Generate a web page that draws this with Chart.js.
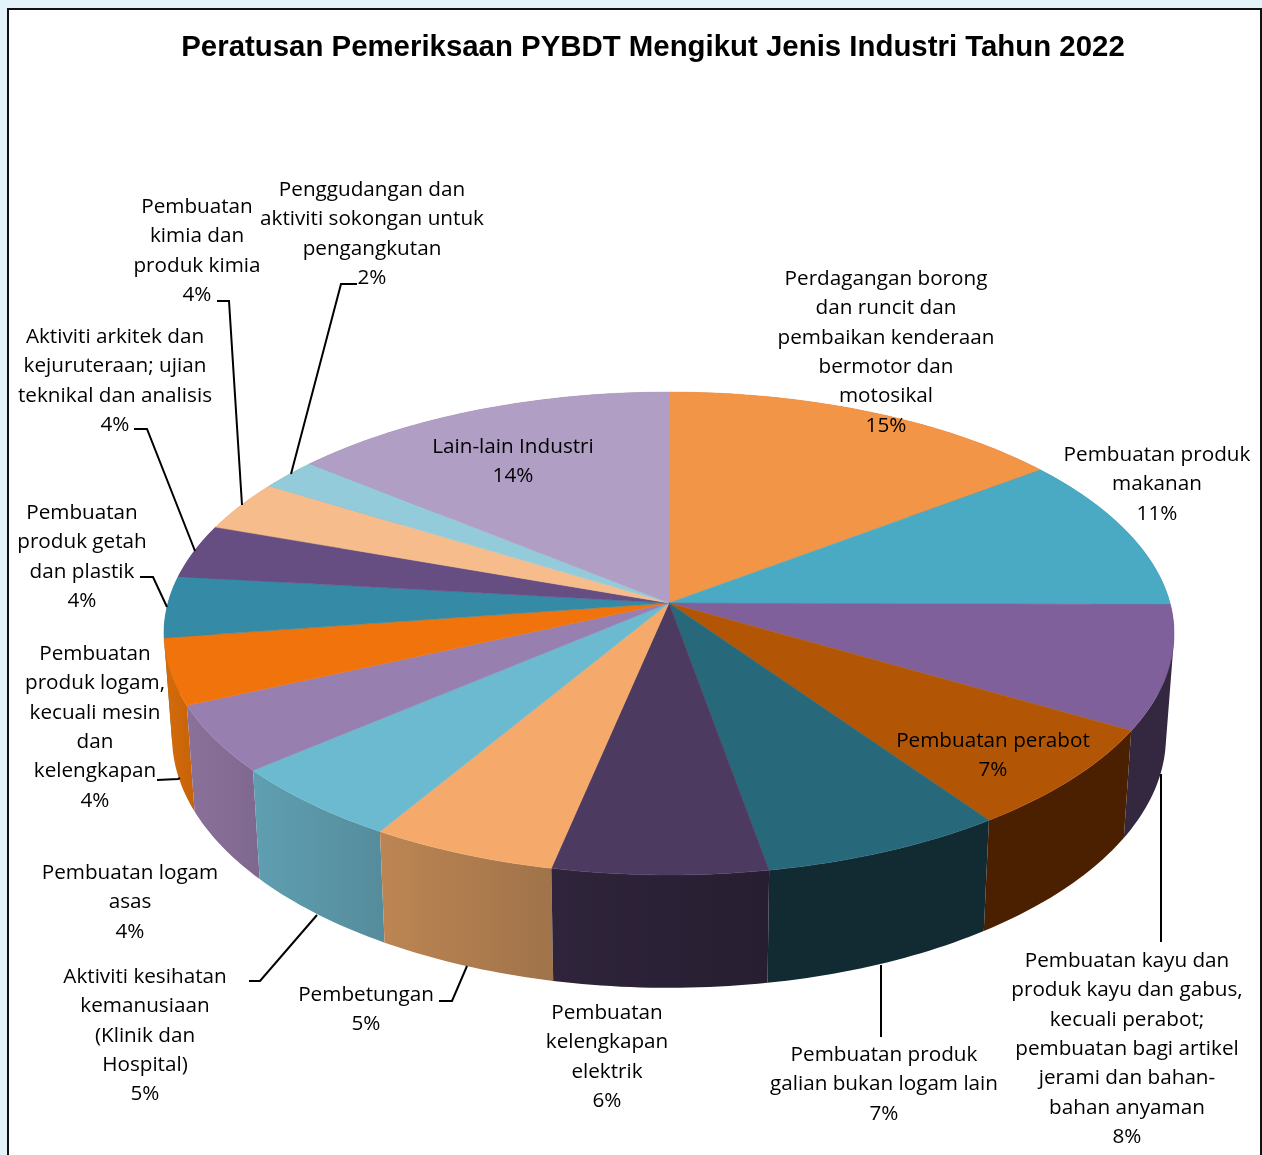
<!DOCTYPE html>
<html><head><meta charset="utf-8">
<style>html,body{margin:0;padding:0;background:#e4f2f9;overflow:hidden}#w{position:absolute;left:0;top:0;width:1262px;height:1155px}</style>
<script src="https://cdn.jsdelivr.net/npm/chart.js@4"></script>
</head><body><div id="w"><canvas id="c" width="1262" height="1155"></canvas></div>
<script>
const chartTitle = 'Peratusan Pemeriksaan PYBDT Mengikut Jenis Industri Tahun 2022';
const categories = [
 'Perdagangan borong dan runcit dan pembaikan kenderaan bermotor dan motosikal',
 'Pembuatan produk makanan',
 'Pembuatan kayu dan produk kayu dan gabus, kecuali perabot; pembuatan bagi artikel jerami dan bahan-bahan anyaman',
 'Pembuatan perabot',
 'Pembuatan produk galian bukan logam lain',
 'Pembuatan kelengkapan elektrik',
 'Pembetungan',
 'Aktiviti kesihatan kemanusiaan (Klinik dan Hospital)',
 'Pembuatan logam asas',
 'Pembuatan produk logam, kecuali mesin dan kelengkapan',
 'Pembuatan produk getah dan plastik',
 'Aktiviti arkitek dan kejuruteraan; ujian teknikal dan analisis',
 'Pembuatan kimia dan produk kimia',
 'Penggudangan dan aktiviti sokongan untuk pengangkutan',
 'Lain-lain Industri'];
const values = [14.7,10.4,8.3,6.9,6.9,6.1,5.3,5.2,4.5,4.4,4.1,3.6,3.4,2.1,14.1];
const percentLabels = ['15%','11%','8%','7%','7%','6%','5%','5%','4%','4%','4%','4%','4%','2%','14%'];
const labelLines = [
 ['Perdagangan borong','dan runcit dan','pembaikan kenderaan','bermotor dan','motosikal'],
 ['Pembuatan produk','makanan'],
 ['Pembuatan kayu dan','produk kayu dan gabus,','kecuali perabot;','pembuatan bagi artikel','jerami dan bahan-','bahan anyaman'],
 ['Pembuatan perabot'],
 ['Pembuatan produk','galian bukan logam lain'],
 ['Pembuatan','kelengkapan','elektrik'],
 ['Pembetungan'],
 ['Aktiviti kesihatan','kemanusiaan','(Klinik dan','Hospital)'],
 ['Pembuatan logam','asas'],
 ['Pembuatan','produk logam,','kecuali mesin','dan','kelengkapan'],
 ['Pembuatan','produk getah','dan plastik'],
 ['Aktiviti arkitek dan','kejuruteraan; ujian','teknikal dan analisis'],
 ['Pembuatan','kimia dan','produk kimia'],
 ['Penggudangan dan','aktiviti sokongan untuk','pengangkutan'],
 ['Lain-lain Industri']];
const topColors = ['#f39546','#4aa9c3','#7f609b','#b25605','#27687a','#4d3a60','#f5aa6b','#6cbad0','#977fb0','#f0730c','#358aa6','#664d82','#f7bc8c','#94cbda','#b19ec4'];
const sideLeft  = ['#b46e34','#367d90','#33283f','#4a2000','#122a32','#2f243b','#bd8553','#5f9fb1','#8a7199','#d56c0a','#2a6e85','#4d3a60','#b88a66','#6e98a2','#83759a'];
const sideRight = ['#b46e34','#367d90','#33283f','#4a2000','#122a32','#271e31','#a0734a','#558c9c','#7f6890','#c66208','#2a6e85','#4d3a60','#b88a66','#6e98a2','#83759a'];
// label layout: centre x, first-line centre y
const labelX = [886,1157,1127,993,884,607,366,145,130,95,82,115,197,372,513];
const labelY = [279,455,961,741,1055,1013,995,977,873,654,513,337,207,190,447];
const labelGap = 29.4;
const leaders = [
 null,null,
 [[1161,942],[1161,774]],
 null,
 [[881,1037],[881,965]],
 null,
 [[439,1001],[452,1001],[467,966]],
 [[249,981],[260,981],[317,915]],
 null,
 [[157,780],[178,779],[180,778]],
 [[140,577],[153,577],[167,607]],
 [[134,429],[147,429],[195,551]],
 [[217,301],[229,301],[242,505]],
 [[357,284],[341,284],[291,474]],
 null];
// perspective of the pie disc
const P = {cx:669, cy:603, a:501, b:237.6, k:0.1263, sx:0.984, sy:1.04, dy:102};
function topPt(t){const u=Math.cos(t),v=Math.sin(t),w=1-P.k*v;return [P.cx+P.a*u/w,P.cy+P.b*v/w];}
function botPt(t){const p=topPt(t);return [P.cx+(p[0]-P.cx)*P.sx,P.cy+P.dy+(p[1]-P.cy)*P.sy];}
function angles(s,e){const n=Math.max(2,Math.ceil((e-s)/(Math.PI/180)));const r=[];for(let i=0;i<=n;i++)r.push(s+(e-s)*i/n);return r;}
function addQuad(x,q){let s=0;for(let i=0;i<4;i++){const a=q[i],b=q[(i+1)%4];s+=a[0]*b[1]-b[0]*a[1];}
 const o=s<0?q.slice().reverse():q;o.forEach((p,i)=>i?x.lineTo(p[0],p[1]):x.moveTo(p[0],p[1]));x.closePath();}
const pie3d = {
 id:'pie3d',
 beforeDraw(c){const x=c.ctx;x.save();x.fillStyle='#e4f2f9';x.fillRect(0,0,1262,1155);x.fillStyle='#fff';x.fillRect(7,8,1254,1147);
  x.strokeStyle='#111';x.lineWidth=2;x.beginPath();x.moveTo(8,1155);x.lineTo(8,9);x.lineTo(1261,9);x.lineTo(1261,1155);x.stroke();x.restore();},
 beforeDatasetsDraw(c){
  const x=c.ctx,arcs=c.getDatasetMeta(0).data;
  x.save();
  const order=arcs.map((a,i)=>i).sort((p,q)=>Math.sin((arcs[p].startAngle+arcs[p].endAngle)/2)-Math.sin((arcs[q].startAngle+arcs[q].endAngle)/2));
  order.forEach(i=>{const A=angles(arcs[i].startAngle,arcs[i].endAngle);
   const T=A.map(topPt),B=A.map(botPt);
   const xs=T.concat(B).map(p=>p[0]);const g=x.createLinearGradient(Math.min(...xs),0,Math.max(...xs),0);
   g.addColorStop(0,sideLeft[i]);g.addColorStop(1,sideRight[i]);
   x.fillStyle=g;x.beginPath();
   for(let j=0;j<T.length-1;j++)addQuad(x,[T[j],T[j+1],B[j+1],B[j]]);
   x.fill('nonzero');
  });
  arcs.forEach((a,i)=>{x.fillStyle=topColors[i];x.strokeStyle=topColors[i];x.lineWidth=0.5;x.beginPath();x.moveTo(P.cx,P.cy);
   angles(a.startAngle,a.endAngle).map(topPt).forEach(p=>x.lineTo(p[0],p[1]));x.closePath();x.fill();x.stroke();});
  x.restore();
  return false;
 },
 afterDraw(c){
  const x=c.ctx;x.save();x.strokeStyle='#000';x.lineWidth=2;x.lineJoin='miter';
  leaders.forEach(l=>{if(!l)return;x.beginPath();l.forEach((p,j)=>j?x.lineTo(p[0],p[1]):x.moveTo(p[0],p[1]));x.stroke();});
  x.fillStyle='#000';x.font='20.7px "Open Sans"';x.textAlign='center';x.textBaseline='middle';
  labelLines.forEach((ls,i)=>{ls.concat([percentLabels[i]]).forEach((t,j)=>x.fillText(t,labelX[i],labelY[i]+j*labelGap));});
  x.restore();
 }
};
new Chart(document.getElementById('c'),{
 type:'pie',
 data:{labels:categories,datasets:[{data:values,backgroundColor:topColors,borderWidth:0}]},
 plugins:[pie3d],
 options:{responsive:false,animation:false,
  layout:{padding:{left:44,right:0,top:0,bottom:0}},
  plugins:{legend:{display:false},tooltip:{enabled:false},
   title:{display:true,text:chartTitle,color:'#000',font:{family:'"Liberation Sans"',size:29.4,weight:'bold'},padding:{top:30,bottom:11}}}}
});
</script></body></html>
